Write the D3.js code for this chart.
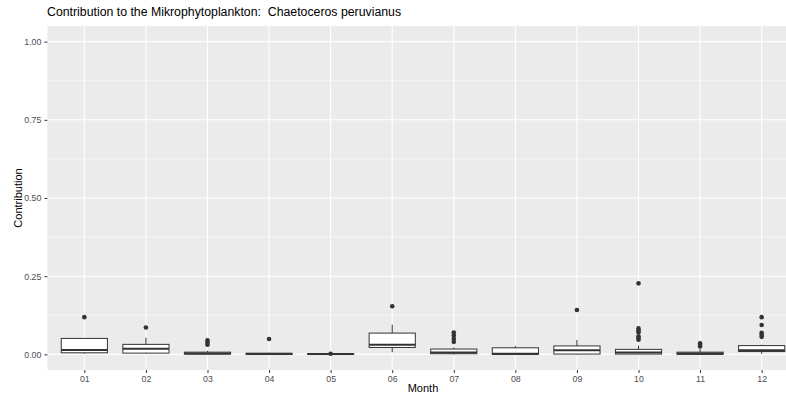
<!DOCTYPE html>
<html>
<head>
<meta charset="utf-8">
<script src="https://cdn.jsdelivr.net/npm/d3@7"></script>
<style>
  html, body { margin: 0; padding: 0; background: #fff; overflow: hidden; }
  svg { display: block; font-family: "Liberation Sans", Arial, sans-serif; }
</style>
</head>
<body>
<svg id="chart" width="786" height="396"></svg>
<script>
const months = ["01","02","03","04","05","06","07","08","09","10","11","12"];
const lowWhisker = [0.002, 0.002, 0.000, 0.000, 0.000, 0.007, 0.000, 0.000, 0.000, 0.000, 0.000, 0.002];
const q1 = [0.005, 0.004, 0.001, 0.000, 0.000, 0.022, 0.002, 0.000, 0.001, 0.001, 0.000, 0.009];
const median = [0.014, 0.018, 0.003, 0.002, 0.001, 0.031, 0.006, 0.002, 0.013, 0.006, 0.003, 0.013];
const q3 = [0.051, 0.032, 0.007, 0.003, 0.002, 0.068, 0.017, 0.021, 0.027, 0.016, 0.007, 0.028];
const highWhisker = [0.051, 0.053, 0.011, 0.005, 0.003, 0.095, 0.022, 0.027, 0.046, 0.028, 0.017, 0.031];
const outliers = [
  [0.119],
  [0.086],
  [0.045, 0.038, 0.031],
  [0.049],
  [0.002],
  [0.154],
  [0.070, 0.060, 0.050, 0.040],
  [],
  [0.142],
  [0.227, 0.083, 0.077, 0.071, 0.058, 0.052, 0.047],
  [0.035, 0.030, 0.025],
  [0.119, 0.094, 0.069, 0.063, 0.056]
];
const yTicks = [0, 0.25, 0.5, 0.75, 1.0];
const yMinor = [0.125, 0.375, 0.625, 0.875];

const svg = d3.select("#chart");
// panel runs past the right edge, the picture is cropped there
const panel = { left: 47.4, right: 798.6, top: 26, bottom: 370 };

// discrete axis with 0.6 units of padding each side, like ggplot
const x = d3.scalePoint()
  .domain(months)
  .range([panel.left, panel.right])
  .padding(0.6);
const step = x.step();

const y = d3.scaleLinear()
  .domain([-0.05, 1.05])
  .range([panel.bottom, panel.top]);

svg.append("rect")
  .attr("x", panel.left).attr("y", panel.top)
  .attr("width", panel.right - panel.left)
  .attr("height", panel.bottom - panel.top)
  .attr("fill", "#ebebeb");

const grid = svg.append("g");
grid.selectAll(".minor")
  .data(yMinor).enter().append("line")
  .attr("x1", panel.left).attr("x2", panel.right)
  .attr("y1", d => y(d)).attr("y2", d => y(d))
  .attr("stroke", "#fff").attr("stroke-width", 0.55);
grid.selectAll(".major")
  .data(yTicks).enter().append("line")
  .attr("x1", panel.left).attr("x2", panel.right)
  .attr("y1", d => y(d)).attr("y2", d => y(d))
  .attr("stroke", "#fff").attr("stroke-width", 1.1);
grid.selectAll(".vmajor")
  .data(months).enter().append("line")
  .attr("x1", d => x(d)).attr("x2", d => x(d))
  .attr("y1", panel.top).attr("y2", panel.bottom)
  .attr("stroke", "#fff").attr("stroke-width", 1.1);

// boxes
const boxW = step * 0.75;
const boxes = svg.append("g")
  .selectAll("g")
  .data(months.map((m, i) => ({ m, i })))
  .enter().append("g");

boxes.append("line")
  .attr("x1", d => x(d.m)).attr("x2", d => x(d.m))
  .attr("y1", d => y(highWhisker[d.i])).attr("y2", d => y(q3[d.i]))
  .attr("stroke", "#333").attr("stroke-width", 1);
boxes.append("line")
  .attr("x1", d => x(d.m)).attr("x2", d => x(d.m))
  .attr("y1", d => y(q1[d.i])).attr("y2", d => y(lowWhisker[d.i]))
  .attr("stroke", "#333").attr("stroke-width", 1);
boxes.append("rect")
  .attr("x", d => x(d.m) - boxW / 2)
  .attr("width", boxW)
  .attr("y", d => y(q3[d.i]))
  .attr("height", d => Math.max(y(q1[d.i]) - y(q3[d.i]), 0.5))
  .attr("fill", "#fff").attr("stroke", "#333").attr("stroke-width", 1);
boxes.append("line")
  .attr("x1", d => x(d.m) - boxW / 2).attr("x2", d => x(d.m) + boxW / 2)
  .attr("y1", d => y(median[d.i])).attr("y2", d => y(median[d.i]))
  .attr("stroke", "#333").attr("stroke-width", 2);
boxes.selectAll("circle")
  .data(d => outliers[d.i].map(v => ({ m: d.m, v })))
  .enter().append("circle")
  .attr("cx", d => x(d.m)).attr("cy", d => y(d.v))
  .attr("r", 2.3).attr("fill", "#333");

// axes
const yAxis = svg.append("g")
  .attr("transform", `translate(${panel.left},0)`)
  .call(d3.axisLeft(y).tickValues(yTicks).tickFormat(d3.format(".2f")).tickSize(3).tickPadding(3));
const xAxis = svg.append("g")
  .attr("transform", `translate(0,${panel.bottom})`)
  .call(d3.axisBottom(x).tickSize(3).tickPadding(3));
[yAxis, xAxis].forEach(a => {
  a.select(".domain").remove();
  a.selectAll(".tick line").attr("stroke", "#333");
  a.selectAll(".tick text").attr("fill", "#4d4d4d").style("font-size", "8.8px");
});

svg.append("text")
  .attr("x", (panel.left + panel.right) / 2).attr("y", 392)
  .attr("text-anchor", "middle")
  .style("font-size", "11px").attr("fill", "#000")
  .text("Month");
svg.append("text")
  .attr("transform", `translate(22,${(panel.top + panel.bottom) / 2}) rotate(-90)`)
  .attr("text-anchor", "middle")
  .style("font-size", "11px").attr("fill", "#000")
  .text("Contribution");
svg.append("text")
  .attr("x", 47).attr("y", 16)
  .style("font-size", "12.3px").style("white-space", "pre").attr("fill", "#000")
  .text("Contribution to the Mikrophytoplankton:  Chaetoceros peruvianus");
</script>
</body>
</html>
